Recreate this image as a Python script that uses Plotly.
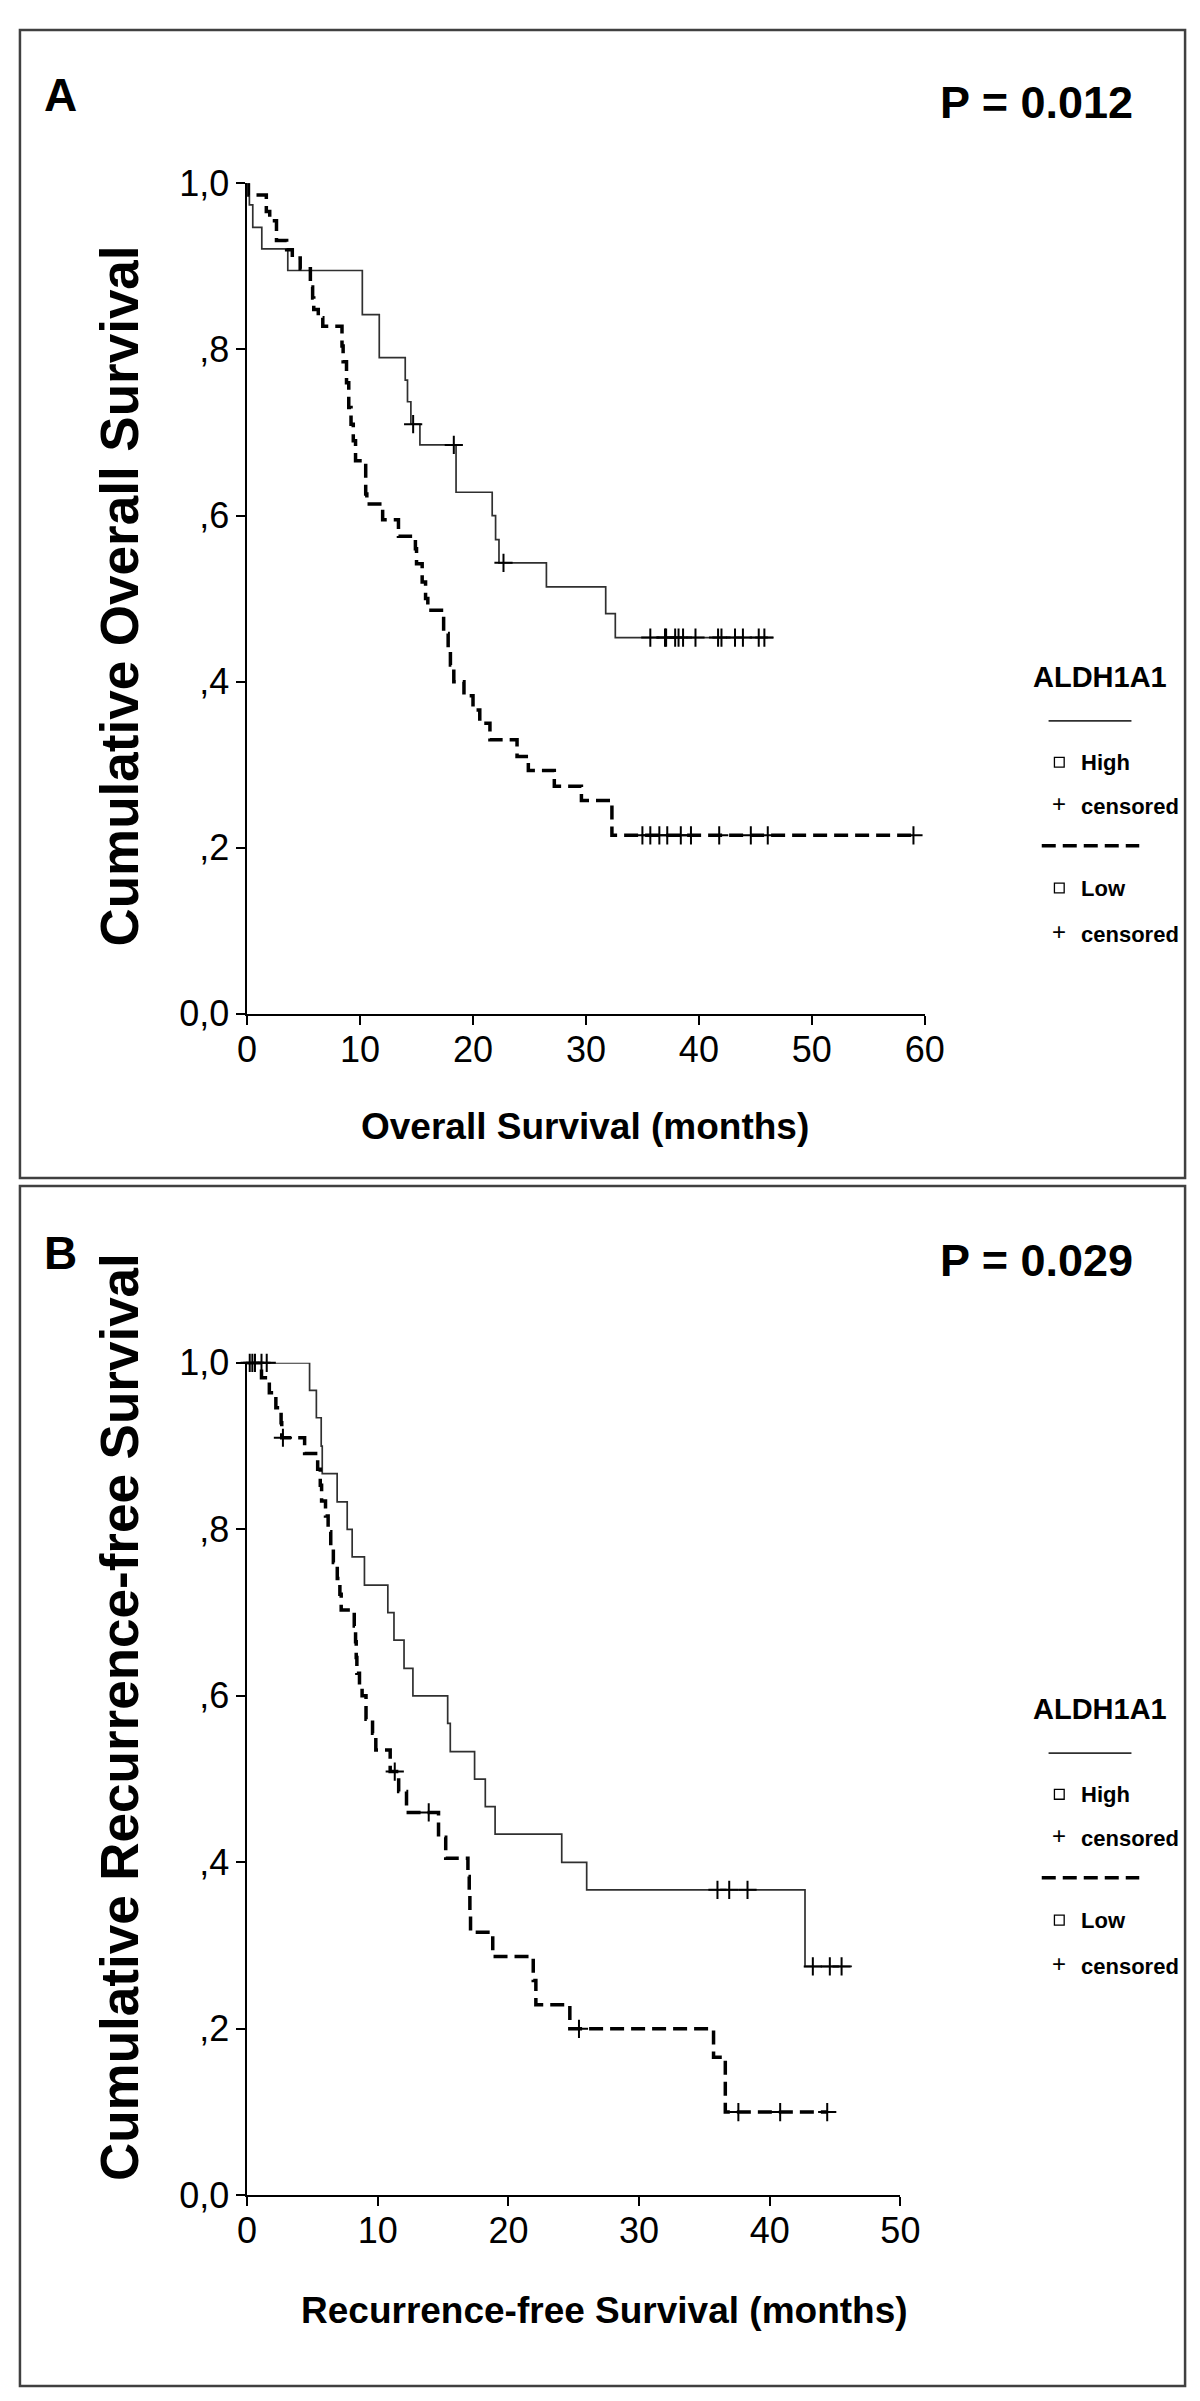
import plotly.graph_objects as go

W, H = 1200, 2401

# ---------------- DATA ----------------
# Panel A: Overall survival (months) - step points (time, survival)
a_high_t = [0, 0.2, 0.5, 1.3, 3.6, 10.2, 11.7, 14.0, 14.2, 14.5, 15.3, 18.5, 21.7, 22.0, 22.3, 26.5, 31.75, 32.6]
a_high_s = [1.0, 0.974, 0.947, 0.921, 0.895, 0.842, 0.79, 0.763, 0.737, 0.71, 0.685, 0.628, 0.60, 0.571, 0.543, 0.514, 0.482, 0.453]
a_high_end = 46.6
a_high_cens = [14.7, 18.3, 22.7, 35.7, 37.0, 37.1, 37.9, 38.2, 38.6, 39.7, 41.7, 42.0, 43.2, 43.9, 45.3, 45.8]

a_low_t = [0, 0.1, 1.7, 2.0, 2.6, 3.5, 4.0, 4.7, 5.6, 5.8, 5.9, 6.3, 6.7, 8.4, 8.5, 8.8, 9.0, 9.2, 9.4, 9.6,
           10.5, 10.6, 12.0, 13.4, 14.9, 15.0, 15.5, 15.8, 16.0, 17.4, 17.8, 18.0, 18.3, 19.2, 20.0, 20.6,
           21.5, 23.9, 24.9, 27.2, 29.6, 32.3]
a_low_s = [1.0, 0.986, 0.966, 0.955, 0.931, 0.92, 0.91, 0.897, 0.875, 0.862, 0.848, 0.838, 0.828, 0.804, 0.785,
           0.76, 0.73, 0.71, 0.69, 0.666, 0.626, 0.614, 0.595, 0.575, 0.56, 0.542, 0.52, 0.50, 0.486, 0.458,
           0.44, 0.42, 0.40, 0.383, 0.366, 0.35, 0.33, 0.31, 0.293, 0.274, 0.257, 0.215]
a_low_end = 59.0
a_low_cens = [35.0, 35.7, 36.5, 37.2, 38.4, 39.3, 41.8, 44.6, 46.1, 59.0]

# Panel B: Recurrence-free survival (months)
b_high_t = [0, 4.78, 5.30, 5.67, 5.75, 6.89, 7.66, 8.04, 8.98, 10.77, 11.24, 12.01, 12.69, 15.35, 15.55,
            17.41, 18.23, 18.98, 24.08, 25.99, 42.7]
b_high_s = [1.0, 0.967, 0.934, 0.90, 0.867, 0.833, 0.80, 0.767, 0.733, 0.70, 0.667, 0.633, 0.60, 0.567, 0.533,
            0.50, 0.467, 0.434, 0.40, 0.367, 0.275]
b_high_end = 46.3
b_high_cens = [1.1, 1.5, 36.0, 36.9, 38.3, 43.3, 44.6, 45.5]

b_low_t = [0, 1.1, 1.7, 2.2, 2.6, 2.65, 4.4, 5.4, 5.6, 5.7, 6.0, 6.2, 6.4, 6.6, 6.9, 7.1, 7.2, 8.2, 8.3, 8.35,
           8.4, 8.6, 8.8, 9.1, 9.6, 9.85, 10.95, 11.6, 12.2, 14.65, 15.2, 16.9, 17.0, 17.05, 17.1, 18.8,
           21.9, 22.1, 24.7, 35.7, 36.6]
b_low_s = [1.0, 0.982, 0.964, 0.946, 0.928, 0.91, 0.891, 0.872, 0.853, 0.834, 0.816, 0.797, 0.778, 0.76,
           0.741, 0.722, 0.703, 0.684, 0.665, 0.646, 0.627, 0.613, 0.60, 0.572, 0.555, 0.535, 0.509, 0.485,
           0.46, 0.43, 0.405, 0.383, 0.361, 0.338, 0.316, 0.287, 0.258, 0.229, 0.20, 0.166, 0.10]
b_low_end = 44.4
b_low_cens = [0.2, 0.4, 0.6, 2.74, 11.3, 13.9, 25.4, 37.6, 40.8, 44.4]

y_tickvals = [0, 0.2, 0.4, 0.6, 0.8, 1.0]
y_ticktext = ["0,0", ",2", ",4", ",6", ",8", "1,0"]
a_xticks = [0, 10, 20, 30, 40, 50, 60]
b_xticks = [0, 10, 20, 30, 40, 50]

FONT = "Liberation Sans, Arial, sans-serif"


def px(x):
    return x / W


def py(y):
    return 1 - y / H


def surv_at(ts, ss, t):
    v = ss[0]
    for ti, si in zip(ts, ss):
        if ti <= t:
            v = si
    return v


fig = go.Figure()


def add_curve(ts, ss, end, cens, xa, ya, dashed):
    xs = list(ts) + [end]
    ys = list(ss) + [ss[-1]]
    if dashed:
        line = dict(color="black", width=3.5, dash="14px,7px", shape="hv")
    else:
        line = dict(color="#303030", width=1.7, shape="hv")
    fig.add_trace(go.Scatter(x=xs, y=ys, mode="lines", line=line, xaxis=xa, yaxis=ya,
                             showlegend=False, cliponaxis=False, hoverinfo="skip"))
    cy = [surv_at(ts, ss, c) for c in cens]
    fig.add_trace(go.Scatter(x=cens, y=cy, mode="markers", xaxis=xa, yaxis=ya,
                             marker=dict(symbol="cross-thin", size=13, line=dict(color="black", width=2)),
                             showlegend=False, cliponaxis=False, hoverinfo="skip"))


add_curve(a_high_t, a_high_s, a_high_end, a_high_cens, "x", "y", False)
add_curve(a_low_t, a_low_s, a_low_end, a_low_cens, "x", "y", True)
add_curve(b_high_t, b_high_s, b_high_end, b_high_cens, "x2", "y2", False)
add_curve(b_low_t, b_low_s, b_low_end, b_low_cens, "x2", "y2", True)

axis_common = dict(showline=True, linecolor="black", linewidth=1.5, ticks="outside", ticklen=9,
                   tickwidth=1.5, tickcolor="black", showgrid=False, zeroline=False,
                   tickfont=dict(family=FONT, size=36, color="black"), fixedrange=True)

fig.update_layout(
    width=W, height=H, autosize=False,
    margin=dict(l=0, r=0, t=0, b=0),
    paper_bgcolor="white", plot_bgcolor="white",
    xaxis=dict(domain=[px(235), px(930)], range=[0, 60], anchor="y", tickvals=a_xticks,
               ticklabelstandoff=-6, **axis_common),
    yaxis=dict(domain=[py(1003), py(158)], range=[0, 1], anchor="x", tickvals=y_tickvals,
               ticktext=y_ticktext, **axis_common),
    xaxis2=dict(domain=[px(235), px(905)], range=[0, 50], anchor="y2", tickvals=b_xticks,
                ticklabelstandoff=-6, **axis_common),
    yaxis2=dict(domain=[py(2205), py(1358)], range=[0, 1], anchor="x2", tickvals=y_tickvals,
                ticktext=y_ticktext, **axis_common),
)

shapes = []
annotations = []


def text(x, y, s, size, bold=True, xanchor="center", angle=0):
    annotations.append(dict(xref="paper", yref="paper", x=px(x), y=py(y), text=("<b>%s</b>" % s) if bold else s,
                            showarrow=False, xanchor=xanchor, yanchor="middle", textangle=angle,
                            font=dict(family=FONT, size=size, color="black")))


# Panel borders
for (y0, y1) in [(2, 1170), (1178, 2399)]:
    shapes.append(dict(type="rect", xref="paper", yref="paper", x0=px(2), x1=px(1197), y0=py(y1), y1=py(y0),
                       line=dict(color="#404040", width=2.5)))

panels = [
    dict(letter="A", p="P = 0.012", top=0, ytitle="Cumulative Overall Survival", yt_c=578,
         xtitle="Overall Survival (months)", xt_c=1118, xt_x=582, leg=660),
    dict(letter="B", p="P = 0.029", top=1178, ytitle="Cumulative Recurrence-free Survival", yt_c=1718,
         xtitle="Recurrence-free Survival (months)", xt_x=602, xt_c=2322, leg=1710),
]
for pn in panels:
    t0 = pn["top"]
    text(44, t0 + 68, pn["letter"], 46)
    text(1045, t0 + 76, pn["p"], 45)
    text(104, pn["yt_c"], pn["ytitle"], 53, angle=-90)
    text(pn["xt_x"], pn["xt_c"], pn["xtitle"], 37)
    L = pn["leg"]
    text(1110, L, "ALDH1A1", 29)
    shapes.append(dict(type="line", xref="paper", yref="paper", x0=px(1057), x1=px(1142),
                       y0=py(L + 45), y1=py(L + 45), line=dict(color="#303030", width=1.7)))
    shapes.append(dict(type="rect", xref="paper", yref="paper", x0=px(1063), x1=px(1073),
                       y0=py(L + 92), y1=py(L + 82), line=dict(color="black", width=1.3)))
    text(1088, L + 87, "High", 22, xanchor="left")
    text(1068, L + 129, "+", 24, bold=False)
    text(1088, L + 132, "censored", 22, xanchor="left")
    shapes.append(dict(type="line", xref="paper", yref="paper", x0=px(1050), x1=px(1150),
                       y0=py(L + 172), y1=py(L + 172), line=dict(color="black", width=3.5, dash="14px,7px")))
    shapes.append(dict(type="rect", xref="paper", yref="paper", x0=px(1063), x1=px(1073),
                       y0=py(L + 220), y1=py(L + 210), line=dict(color="black", width=1.3)))
    text(1088, L + 215, "Low", 22, xanchor="left")
    text(1068, L + 259, "+", 24, bold=False)
    text(1088, L + 262, "censored", 22, xanchor="left")

fig.update_layout(shapes=shapes, annotations=annotations)
fig.write_html("out.html")
